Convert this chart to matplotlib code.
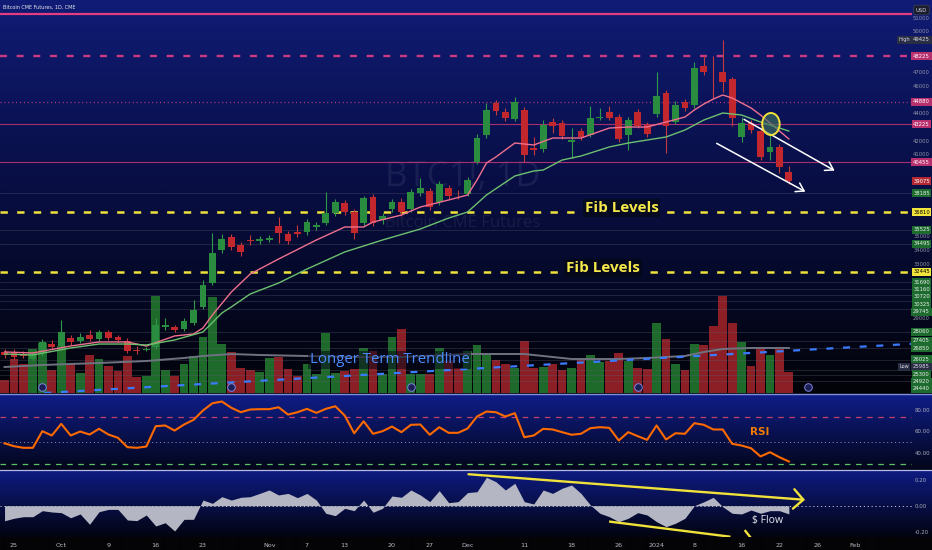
import numpy as np
import matplotlib
matplotlib.use("Agg")
import matplotlib.pyplot as plt
import matplotlib.transforms as mtrans
import matplotlib.colors as mcolors
from matplotlib.patches import Ellipse
from matplotlib.lines import Line2D

plt.rcParams['lines.scale_dashes'] = False
plt.rcParams['font.family'] = ['DejaVu Sans']

# ---------------- data ----------------
bar_index = list(range(-1, 83))
opens = [26590, 26590, 26440, 26080, 26510, 27170, 27030, 27610, 27390, 27830, 27540, 28050, 27685, 27390,
         26735, 26735, 26955, 28415, 28415, 28270, 28705, 29875, 31630, 34045, 34995, 34410, 34775, 34700,
         34810, 35800, 35215, 35325, 35360, 35725, 36020, 36750, 37480, 36820, 36020, 37920, 36235, 37040,
         37555, 37040, 38210, 38355, 37555, 38575, 38100, 38140, 40475, 42450, 44790, 44130, 43620, 44280,
         41500, 41425, 43400, 43325, 41940, 42745, 42450, 43730, 44130, 43765, 42450, 44130, 43180, 43985,
         45520, 43400, 44860, 44645, 47495, 46360, 47055, 46545, 42305, 43325, 42745, 41205, 41575, 39745]
highs = [26810, 26810, 26660, 26590, 27540, 27460, 28930, 27830, 27980, 28200, 28200, 28200, 27830, 27610,
         27025, 26955, 29075, 29075, 28560, 29075, 30390, 31850, 35285, 35215, 35215, 34630, 35140, 35065,
         35140, 36455, 35435, 35870, 36310, 36090, 38285, 37770, 37700, 37040, 37990, 38140, 36750, 37770,
         37845, 38505, 39305, 38575, 39090, 38795, 38430, 39380, 42525, 44790, 45010, 44425, 45230, 44495,
         42305, 43545, 43695, 43545, 42960, 42960, 44570, 44425, 44570, 43985, 43765, 44350, 43400, 47055,
         45740, 44935, 45080, 47785, 48300, 48225, 49425, 46690, 43765, 43545, 42960, 42595, 41790, 40185]
lows = [26150, 26050, 26150, 25985, 26300, 26880, 26880, 27100, 27250, 27390, 27390, 27465, 27320, 26515,
        26440, 26660, 26805, 28195, 28050, 28125, 28560, 29730, 31485, 33825, 34045, 33605, 34410, 34480,
        34630, 34555, 34480, 34995, 35140, 35505, 35870, 36530, 36605, 34850, 35800, 35800, 35945, 36820,
        36530, 36820, 37990, 36970, 37335, 37770, 37770, 37990, 40330, 42230, 43910, 43475, 43475, 40475,
        40990, 41205, 42595, 42160, 40770, 42085, 42305, 43545, 43545, 41940, 41355, 42960, 42305, 43765,
        41135, 43255, 44205, 44425, 46835, 45155, 45595, 43110, 41940, 42595, 40625, 40625, 39670, 38870]
closes = [26370, 26220, 26300, 26370, 27320, 26950, 28050, 27320, 27685, 27540, 28050, 27610, 27465, 26660,
          26685, 26805, 28560, 28560, 28195, 28855, 29660, 31485, 33825, 34850, 34265, 33900, 34700, 34850,
          34920, 35285, 34700, 35250, 36090, 35870, 36750, 37555, 36820, 35285, 37845, 36020, 36530, 37555,
          36820, 38285, 38575, 37185, 38870, 37990, 38030, 39160, 42230, 44280, 44205, 43695, 44860, 40990,
          41390, 43180, 43110, 42375, 42085, 42305, 43695, 43800, 43695, 42160, 43545, 43110, 42525, 45300,
          43110, 44645, 44425, 47350, 47055, 46290, 46325, 43695, 43325, 42815, 40840, 41575, 40110, 39075]
volume_k = [3.25, 8.5, 7.25, 11, 12.5, 5.75, 11.75, 7.25, 5, 9.5, 8.5, 6.75, 5.5, 9.25, 4, 4.25, 24.25, 5.75,
            4.25, 7.25, 9.25, 14, 24, 12.25, 10.25, 6.25, 5.75, 5.25, 8.75, 9, 6, 4.25, 7.25, 4.75, 15, 5, 5.5,
            6, 11.25, 10.5, 4.75, 14, 16, 4.75, 4.75, 4.75, 11.25, 8, 6.25, 10.5, 12, 9.75, 8.25, 7.25, 6.25,
            13, 6.25, 6.5, 7.25, 5.75, 6.25, 8.25, 9.5, 7.75, 8, 10, 8, 6.25, 6, 17.5, 13.5, 7.25, 5.75, 12.25,
            12, 16.75, 24.25, 17.5, 12.75, 6.75, 11.5, 9.5, 11, 5.25]
vma_bar = [-1, 3, 9, 14, 18, 20, 23, 26, 31, 36, 41, 48, 54, 59, 64, 67, 71, 73, 75, 78, 82]
vma_k = [6.5, 7.0, 7.5, 8.0, 8.75, 9.25, 9.75, 9.5, 9.25, 9.0, 9.0, 9.75, 9.75, 8.5, 8.5, 8.75, 9.25, 10.25,
         11.0, 11.25, 11.25]
ema_fast_bar = [-1, 2, 6, 9, 12, 14, 17, 19, 20, 21, 23, 25, 28, 32, 35, 37, 38, 41, 43, 46, 48, 49, 50, 51,
                53, 55, 57, 60, 63, 65, 67, 69, 71, 72, 73, 74, 75, 76, 77, 78, 79, 80, 81, 82]
ema_fast = [26590, 26515, 27025, 27320, 27320, 27025, 27760, 27905, 28345, 29295, 30975, 32290, 33385, 34775,
            35725, 35725, 36090, 36600, 37185, 37700, 38065, 39160, 40405, 40845, 41865, 41720, 42230, 42230,
            42960, 43035, 43035, 43400, 43765, 44280, 44715, 45080, 45375, 45155, 44790, 44425, 43915, 43330,
            42745, 42160]
ema_slow_bar = [-1, 2, 6, 9, 12, 14, 17, 20, 22, 23, 25, 28, 31, 35, 39, 43, 46, 48, 50, 53, 55, 56, 58, 60,
                62, 63, 65, 69, 71, 73, 75, 77, 79, 81, 82]
ema_slow = [26440, 26370, 26880, 27170, 27170, 27100, 27465, 28050, 29440, 29880, 30830, 31630, 32650, 33900,
            34775, 35580, 36380, 36820, 38065, 39455, 39820, 39890, 40620, 40915, 41355, 41575, 41865, 42305,
            42815, 43545, 44060, 43910, 43400, 42960, 42740]
rsi = [49, 46.3, 44.8, 44.8, 60.2, 56.2, 67.0, 56.2, 59.9, 57.1, 62.4, 57.1, 54.1, 45.4, 44.8, 46.0, 64.8, 65.5,
       60.8, 66.4, 70.7, 79.4, 86.1, 87.7, 81.9, 77.8, 80.3, 80.6, 80.6, 82.4, 75.6, 77.8, 80.9, 77.2, 80.9,
       83.3, 74.7, 58.3, 69.4, 57.8, 60.2, 64.5, 59.3, 66.1, 66.4, 56.9, 63.9, 58.7, 58.7, 62.7, 73.8, 78.4,
       77.8, 73.8, 76.9, 54.6, 56.2, 62.4, 61.8, 59.3, 56.9, 57.8, 63.0, 63.9, 63.3, 51.6, 59.3, 55.6, 52.2,
       65.5, 52.5, 58.3, 57.8, 67.6, 66.1, 61.8, 61.8, 48.5, 46.9, 44.4, 36.8, 40.7, 36.1, 32.1]
money_flow = [-0.115, -0.096, -0.084, -0.084, -0.038, -0.048, -0.053, -0.092, -0.063, -0.142, -0.046, -0.028,
              -0.028, -0.109, -0.114, -0.071, -0.155, -0.130, -0.193, -0.104, -0.104, 0.043, 0.018, 0.069,
              0.043, 0.064, 0.069, 0.094, 0.120, 0.082, 0.094, 0.061, 0.094, 0.043, -0.058, -0.076, -0.020,
              -0.038, 0.043, -0.050, -0.020, 0.074, 0.064, 0.120, 0.082, 0.031, 0.115, 0.023, 0.031, 0.100,
              0.107, 0.217, 0.183, 0.120, 0.171, 0.031, 0.013, 0.120, 0.094, 0.133, 0.158, 0.094, 0.005,
              -0.058, -0.084, -0.122, -0.096, -0.053, -0.071, -0.122, -0.160, -0.134, -0.096, 0.000, 0.030,
              0.064, -0.008, -0.058, -0.063, -0.033, -0.058, -0.038, -0.038, -0.063]
date_labels = ['25', 'Oct', '9', '16', '23', 'Nov', '7', '13', '20', '27', 'Dec', '11', '18', '26', '2024',
               '8', '16', '22', '26', 'Feb']
date_bars = [0, 5, 10, 15, 20, 27, 31, 35, 40, 44, 48, 54, 59, 64, 68, 72, 77, 81, 85, 89]
rollover_bars = [3, 23, 42, 66, 84]
pink_levels = [48225, 44880, 43225, 40455]
top_level = 51330
fib_levels = [36810, 32445]
hline_levels = [38185, 35525, 34495, 31690, 31160, 30720, 30325, 29745, 28060, 27405, 26850, 26025, 25300,
                24920, 24440]
high_value, low_value, last_value = 49425, 25985, 39075
trend_pts = [(5, 23660), (82, 26675)]
rsi_levels = [73.5, 50, 30]

# ---------------- figure / layout ----------------
W, H = 932, 550
fig = plt.figure(figsize=(W / 100, H / 100), dpi=100)

rows = np.zeros((H, 3))
def grad(y0, y1, c0, c1):
    a = np.array(mcolors.to_rgb(c0)); b = np.array(mcolors.to_rgb(c1))
    t = np.linspace(0, 1, y1 - y0)[:, None]
    rows[y0:y1] = a * (1 - t) + b * t
grad(0, 190, '#101c76', '#080e42')
grad(190, 394, '#080e42', '#020308')
grad(394, 470, '#0f1d88', '#03061a')
grad(470, 537, '#0e1b82', '#020410')
grad(537, 550, '#040406', '#040406')
bg = fig.add_axes([0, 0, 1, 1])
bg.imshow(rows[:, None, :], aspect='auto', extent=[0, 1, 0, 1], interpolation='bilinear')
bg.set_axis_off()

def pax(x0, y0, x1, y1):
    a = fig.add_axes([x0 / W, 1 - y1 / H, (x1 - x0) / W, (y1 - y0) / H])
    a.set_facecolor('none')
    for s in a.spines.values():
        s.set_visible(False)
    return a

XL = (-1.48, 95.03)
P_TOP, P_BOT = 52320, 23590
ax = pax(0, 0, 912, 393)
axr = pax(0, 394.5, 912, 469.5)
axm = pax(0, 471, 912, 537)

x = np.array(bar_index, dtype=float)
o, h, l, c = map(np.array, (opens, highs, lows, closes))
up = c >= o
GREEN, RED = '#2a8c3e', '#c2272d'
VGREEN, VRED = '#1d6a2b', '#8c1f26'

# volume (bottom of main pane)
vtr = mtrans.blended_transform_factory(ax.transData, ax.transAxes)
VMAX = 98.25
ax.bar(x, np.array(volume_k) / VMAX, width=0.93, bottom=0, color=np.where(up, VGREEN, VRED),
       transform=vtr, zorder=1, linewidth=0)
ax.plot(vma_bar, np.array(vma_k) / VMAX, color='#6f7280', lw=1.4, transform=vtr, zorder=2)

# faint horizontal lines
for v in hline_levels:
    ax.axhline(v, color='#5c6070', lw=0.5, alpha=0.45, zorder=1.5)

# pink levels
ax.axhline(top_level, color='#e33c80', lw=1.6, zorder=2)
ax.axhline(pink_levels[0], color='#cc3a82', lw=1.7, dashes=(5, 7), zorder=2)
ax.axhline(pink_levels[1], color='#b8357a', lw=0.9, dashes=(0.8, 2.0), zorder=2)
ax.axhline(pink_levels[2], color='#a8306e', lw=0.8, zorder=2)
ax.axhline(pink_levels[3], color='#a8306e', lw=0.8, zorder=2)
for v in fib_levels:
    ax.axhline(v, color='#efe23a', lw=1.8, dashes=(5.3, 6.7), zorder=2)

# trendline
ax.axline(trend_pts[0], trend_pts[1], color='#3b7bff', lw=1.6, dashes=(5, 7), zorder=2.5)

# watermark
ax.text(47.5, 39380, 'BTC1!, 1D', color='white', alpha=0.07, fontsize=25, ha='center', va='center',
        family='Open Sans', zorder=0.5)
ax.text(47.5, 36020, 'Bitcoin CME Futures', color='white', alpha=0.07, fontsize=12, ha='center',
        va='center', family='Open Sans', zorder=0.5)

# candles
ax.vlines(x, l, h, colors=np.where(up, '#2f9a4a', '#c23a3a'), lw=0.8, zorder=3)
body_h = np.maximum(np.abs(c - o), 45)
ax.bar(x, body_h, bottom=np.minimum(o, c), width=0.72, color=np.where(up, GREEN, RED), zorder=4,
       linewidth=0)

# EMAs
ax.plot(ema_fast_bar, ema_fast, color='#f0708f', lw=1.0, zorder=5)
ax.plot(ema_slow_bar, ema_slow, color='#6cc070', lw=1.0, zorder=5)

# annotations
ax.text(60.4, 37114, 'Fib Levels', color='#f5e84a', fontsize=11, fontweight='bold', family='Open Sans',
        va='center', ha='left', zorder=6,
        bbox=dict(boxstyle='square,pad=0.12', fc='#060a20', ec='none'))
ax.text(58.4, 32728, 'Fib Levels', color='#f5e84a', fontsize=11, fontweight='bold', family='Open Sans',
        va='center', ha='left', zorder=6,
        bbox=dict(boxstyle='square,pad=0.12', fc='#05081a', ec='none'))
ax.text(31.3, 26003, 'Longer Term Trendline', color='#4b8bff', fontsize=10.8, family='Open Sans',
        va='center', ha='left', zorder=6,
        bbox=dict(boxstyle='square,pad=0.12', fc='#06081a', ec='none', alpha=0.55))
ax.annotate('', xy=(87.1, 39745), xytext=(77.0, 43693),
            arrowprops=dict(arrowstyle='->,head_length=0.55,head_width=0.35', color='white', lw=1.1),
            zorder=6)
ax.annotate('', xy=(84.0, 38210), xytext=(74.1, 41938),
            arrowprops=dict(arrowstyle='->,head_length=0.55,head_width=0.35', color='white', lw=1.1),
            zorder=6)
ax.add_patch(Ellipse((80.1, 43254), width=1.85, height=1608, fc=(0.25, 0.45, 0.38, 0.65),
                     ec='#f2e23a', lw=1.4, zorder=6))
ax.scatter(rollover_bars, [0.016] * len(rollover_bars), transform=vtr, s=30, facecolors='#1b1f55',
           edgecolors='#7f86e0', linewidths=0.7, zorder=7)
ax.set_xlim(*XL)
ax.set_ylim(P_BOT, P_TOP)
ax.set_xticks([]); ax.set_yticks([])

# ---------------- RSI pane ----------------
axr.plot(x, rsi, color='#ff6a00', lw=1.5, zorder=3)
axr.axhline(rsi_levels[0], color='#c2406e', lw=0.9, dashes=(4, 4))
axr.axhline(rsi_levels[1], color='#9a9aa8', lw=0.6, dashes=(0.8, 2))
axr.axhline(rsi_levels[2], color='#5cc065', lw=0.9, dashes=(4, 4))
axr.text(78.9, 59.9, 'RSI', color='#f57c00', fontsize=7.5, fontweight='bold', ha='center', va='center')
axr.set_xlim(*XL); axr.set_ylim(24.7, 94.2)
axr.set_xticks([])
axr.yaxis.tick_right()
axr.set_yticks([40, 60, 80], ['40.00', '60.00', '80.00'])
axr.tick_params(axis='y', length=0, pad=2.2, labelsize=3.9, labelcolor='#a9acb8')

# ---------------- Money flow pane ----------------
axm.fill_between(x, money_flow, 0, color='#b4b7c3', lw=0, zorder=2)
axm.axhline(0, color='#c8c8d2', lw=0.7, dashes=(0.8, 2), zorder=3)
axm.annotate('', xy=(84.0, 0.0435), xytext=(47.8, 0.242),
             arrowprops=dict(arrowstyle='->,head_length=0.7,head_width=0.7', color='#f0e23a', lw=1.7),
             zorder=5)
axm.plot([63.1, 75.7], [-0.122, -0.236], color='#f0e23a', lw=1.7, zorder=5)
axm.plot([77.4, 77.9], [-0.193, -0.239], color='#f0e23a', lw=1.7, zorder=5)
axm.text(79.7, -0.115, '$ Flow', color='#e8e8ee', fontsize=7.5, family='Open Sans', ha='center',
         va='center', zorder=6)
axm.set_xlim(*XL); axm.set_ylim(-0.239, 0.265)
axm.yaxis.tick_right()
axm.set_yticks([-0.2, 0, 0.2], ['-0.20', '0.00', '0.20'])
axm.tick_params(axis='y', length=0, pad=2.2, labelsize=3.9, labelcolor='#a9acb8')
axm.set_xticks(date_bars, date_labels)
axm.tick_params(axis='x', length=0, pad=4.0, labelsize=4.6, labelcolor='#b7bac4')

# separators
fig.add_artist(Line2D([0, 1], [1 - 393.6 / H] * 2, color='#8290da', lw=1.0))
fig.add_artist(Line2D([0, 1], [1 - 470.3 / H] * 2, color='#b5b9e6', lw=0.9))

# ---------------- price-scale labels ----------------
def py(p):
    return (P_TOP - p) / (P_TOP - P_BOT) * 393.0

kinds = {48225: 'pink', 44880: 'pink', 43225: 'pink', 40455: 'pink', 36810: 'yel', 32445: 'yel',
         39075: 'red', 49425: 'hl', 25985: 'hl'}
vals = sorted(set(hline_levels + pink_levels + fib_levels + [high_value, low_value, last_value]), reverse=True)
ys = [py(v) for v in vals]
GAP = 7.4
for i in range(1, len(ys)):
    ys[i] = max(ys[i], ys[i - 1] + GAP)
ys[-1] = min(ys[-1], 389.0)
for i in range(len(ys) - 2, -1, -1):
    ys[i] = min(ys[i], ys[i + 1] - GAP)
styles = {'pink': ('#b8306e', 'white'), 'yel': ('#f0e43a', 'black'), 'red': ('#b22833', 'white'),
          'hl': ('#2a2e45', '#d8dae2'), 'green': ('#1e6b30', '#e8f0e8')}
for v, yy in zip(vals, ys):
    fc, tc = styles[kinds.get(v, 'green')]
    fig.text(921.5 / W, 1 - yy / H, f'{v}', fontsize=3.8, color=tc, ha='center', va='center',
             bbox=dict(boxstyle='square,pad=0.3', fc=fc, ec='none'))
fig.text(904 / W, 1 - py(high_value) / H, 'High', fontsize=3.6, color='#d8dae2', ha='center', va='center',
         bbox=dict(boxstyle='square,pad=0.3', fc='#2a2e45', ec='none'))
fig.text(904 / W, 1 - ys[vals.index(low_value)] / H, 'Low', fontsize=3.6, color='#d8dae2', ha='center',
         va='center', bbox=dict(boxstyle='square,pad=0.3', fc='#2a2e45', ec='none'))
for t in range(24000, 52000, 1000):
    yy = py(t)
    if yy < 12 or yy > 390:
        continue
    if min(abs(yy - q) for q in ys) < 6.5:
        continue
    fig.text(921.5 / W, 1 - yy / H, f'{t}', fontsize=3.8, color='#8f93a2', ha='center', va='center')
fig.text(921.5 / W, 1 - 10 / H, 'USD', fontsize=3.8, color='#d8dae2', ha='center', va='center',
         bbox=dict(boxstyle='round,pad=0.45', fc='#1a1e2e', ec='#4a4e60', lw=0.4))
fig.text(3 / W, 1 - 7.5 / H, 'Bitcoin CME Futures, 1D, CME', fontsize=3.5, color='#e6e8ee', ha='left',
         va='center')

fig.savefig('out.png', dpi=100)
